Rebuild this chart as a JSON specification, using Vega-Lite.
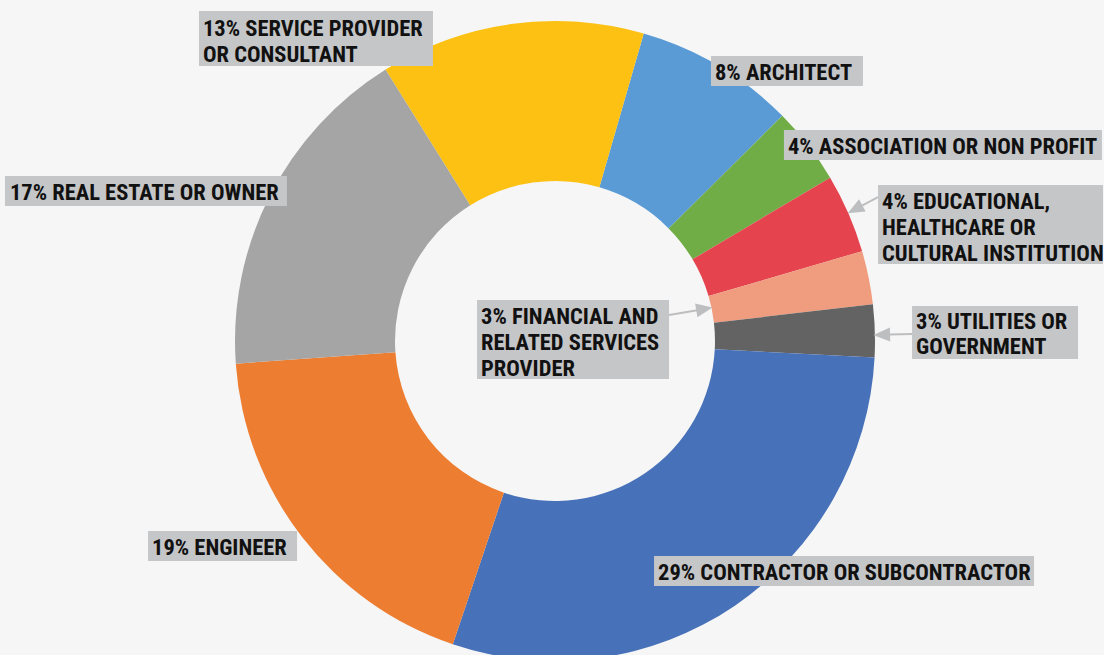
{
  "$schema": "https://vega.github.io/schema/vega-lite/v6.json",
  "width": 1098,
  "height": 628,
  "autosize": {"type": "none"},
  "padding": {"left": 6, "top": 27, "right": 0, "bottom": 0},
  "background": "#F6F6F6",
  "config": {"view": {"stroke": null}, "text": {"font": "Roboto Condensed", "fontSize": 22.5, "fontWeight": "bold", "lineBreak": "\n", "lineHeight": 25.7, "color": "#111111", "align": "left", "baseline": "alphabetic"}},
  "data": {
    "values": [
      {"category": "Architect", "order": 1, "value": 8.1, "label": "8% ARCHITECT"},
      {"category": "Association", "order": 2, "value": 3.9, "label": "4% ASSOCIATION OR NON PROFIT"},
      {"category": "Educational", "order": 3, "value": 4.0, "label": "4% EDUCATIONAL,\nHEALTHCARE OR\nCULTURAL INSTITUTION"},
      {"category": "Financial", "order": 4, "value": 2.7, "label": "3% FINANCIAL AND\nRELATED SERVICES\nPROVIDER"},
      {"category": "Utilities", "order": 5, "value": 2.65, "label": "3% UTILITIES OR\nGOVERNMENT"},
      {"category": "Contractor", "order": 6, "value": 29.35, "label": "29% CONTRACTOR OR SUBCONTRACTOR"},
      {"category": "Engineer", "order": 7, "value": 18.7, "label": "19% ENGINEER"},
      {"category": "Real estate", "order": 8, "value": 17.25, "label": "17% REAL ESTATE OR OWNER"},
      {"category": "Service", "order": 9, "value": 13.35, "label": "13% SERVICE PROVIDER\nOR CONSULTANT"}
    ]
  },
  "transform": [
    {"stack": "value", "groupby": [], "sort": [{"field": "order", "order": "ascending"}], "as": ["v0", "v1"]},
    {"calculate": "0.281 + PI * (datum.v0 + datum.v1) / 100", "as": "ang"},
    {"calculate": "330 * sin(datum.ang)", "as": "ax"},
    {"calculate": "-330 * cos(datum.ang)", "as": "ay"}
  ],
  "resolve": {"scale": {"shape": "independent"}},
  "layer": [
    {
      "mark": {"type": "arc", "innerRadius": 160, "outerRadius": 320},
      "encoding": {
        "theta": {"field": "v0", "type": "quantitative", "scale": {"domain": [0, 100], "range": [0.281, 6.5642]}},
        "theta2": {"field": "v1"},
        "color": {
          "field": "category", "type": "nominal", "legend": null,
          "scale": {
            "domain": ["Architect", "Association", "Educational", "Financial", "Utilities", "Contractor", "Engineer", "Real estate", "Service"],
            "range": ["#5B9BD5", "#70AD47", "#E5444F", "#F09C7E", "#636363", "#4771B8", "#ED7D31", "#A5A5A5", "#FDC113"]
          }
        }
      }
    },
    {
      "transform": [{"filter": {"field": "category", "oneOf": ["Educational", "Financial", "Utilities"]}}],
      "mark": {"type": "point", "filled": true, "size": 4, "opacity": 1, "fill": "#BDBEC0", "stroke": "#BDBEC0", "strokeWidth": 2},
      "encoding": {
        "x": {"field": "ax", "type": "quantitative", "scale": {"domain": [-549, 549], "nice": false, "zero": false}, "axis": null},
        "y": {"field": "ay", "type": "quantitative", "scale": {"domain": [-314, 314], "nice": false, "zero": false, "reverse": true}, "axis": null},
        "shape": {
          "field": "category", "type": "nominal", "legend": null,
          "scale": {
            "domain": ["Educational", "Financial", "Utilities"],
            "range": [
              "M20.4,-12.4L3.85,-3.54M-7.6,2.6L6.45,1.31L1.25,-8.39Z",
              "M-209.4,39.4L-181.2,34.6M-168.4,32.4L-182.1,29.2L-180.3,40Z",
              "M27.2,3.4L4.2,4M-8.8,4.4L4.35,9.5L4.05,-1.5Z"
            ]
          }
        }
      }
    },
    {
      "mark": {"type": "point", "filled": true, "size": 4, "opacity": 1, "color": "#C5C6C8"},
      "encoding": {
        "x": {"field": "ax", "type": "quantitative", "scale": {"domain": [-549, 549], "nice": false, "zero": false}, "axis": null},
        "y": {"field": "ay", "type": "quantitative", "scale": {"domain": [-314, 314], "nice": false, "zero": false, "reverse": true}, "axis": null},
        "shape": {
          "field": "category", "type": "nominal", "legend": null,
          "scale": {
            "domain": ["Architect", "Association", "Educational", "Financial", "Utilities", "Contractor", "Engineer", "Real estate", "Service"],
            "range": [
              "M-12.4,-1.2H139.6V28.8H-12.4Z",
              "M-32.1,-9.1H285.9V20.9H-32.1Z",
              "M20.4,-24.4H245.4V54.6H20.4Z",
              "M-401.4,24.4H-209.4V103.4H-401.4Z",
              "M27.2,-24.6H193.2V28.4H27.2Z",
              "M-86.5,-57.9H293.5V-27.9H-86.5Z",
              "M-145.9,-11.9H3.1V18.1H-145.9Z",
              "M-256,-15.2H26V14.8H-256Z",
              "M-310.5,-3.2H-76.5V51.8H-310.5Z"
            ]
          }
        }
      }
    },
    {
      "transform": [{"filter": "datum.category === 'Architect'"}],
      "mark": {"type": "text", "dx": -8.4, "dy": 22.8},
      "encoding": {
        "x": {"field": "ax", "type": "quantitative", "scale": {"domain": [-549, 549], "nice": false, "zero": false}, "axis": null},
        "y": {"field": "ay", "type": "quantitative", "scale": {"domain": [-314, 314], "nice": false, "zero": false, "reverse": true}, "axis": null},
        "text": {"field": "label"}
      }
    },
    {
      "transform": [{"filter": "datum.category === 'Association'"}],
      "mark": {"type": "text", "dx": -28.1, "dy": 14.9},
      "encoding": {
        "x": {"field": "ax", "type": "quantitative", "scale": {"domain": [-549, 549], "nice": false, "zero": false}, "axis": null},
        "y": {"field": "ay", "type": "quantitative", "scale": {"domain": [-314, 314], "nice": false, "zero": false, "reverse": true}, "axis": null},
        "text": {"field": "label"}
      }
    },
    {
      "transform": [{"filter": "datum.category === 'Educational'"}],
      "mark": {"type": "text", "dx": 24.4, "dy": -0.1},
      "encoding": {
        "x": {"field": "ax", "type": "quantitative", "scale": {"domain": [-549, 549], "nice": false, "zero": false}, "axis": null},
        "y": {"field": "ay", "type": "quantitative", "scale": {"domain": [-314, 314], "nice": false, "zero": false, "reverse": true}, "axis": null},
        "text": {"field": "label"}
      }
    },
    {
      "transform": [{"filter": "datum.category === 'Financial'"}],
      "mark": {"type": "text", "dx": -397.4, "dy": 48.7},
      "encoding": {
        "x": {"field": "ax", "type": "quantitative", "scale": {"domain": [-549, 549], "nice": false, "zero": false}, "axis": null},
        "y": {"field": "ay", "type": "quantitative", "scale": {"domain": [-314, 314], "nice": false, "zero": false, "reverse": true}, "axis": null},
        "text": {"field": "label"}
      }
    },
    {
      "transform": [{"filter": "datum.category === 'Utilities'"}],
      "mark": {"type": "text", "dx": 31.2, "dy": -1.3, "lineHeight": 25},
      "encoding": {
        "x": {"field": "ax", "type": "quantitative", "scale": {"domain": [-549, 549], "nice": false, "zero": false}, "axis": null},
        "y": {"field": "ay", "type": "quantitative", "scale": {"domain": [-314, 314], "nice": false, "zero": false, "reverse": true}, "axis": null},
        "text": {"field": "label"}
      }
    },
    {
      "transform": [{"filter": "datum.category === 'Contractor'"}],
      "mark": {"type": "text", "dx": -82.5, "dy": -33.9},
      "encoding": {
        "x": {"field": "ax", "type": "quantitative", "scale": {"domain": [-549, 549], "nice": false, "zero": false}, "axis": null},
        "y": {"field": "ay", "type": "quantitative", "scale": {"domain": [-314, 314], "nice": false, "zero": false, "reverse": true}, "axis": null},
        "text": {"field": "label"}
      }
    },
    {
      "transform": [{"filter": "datum.category === 'Engineer'"}],
      "mark": {"type": "text", "dx": -141.9, "dy": 12.1},
      "encoding": {
        "x": {"field": "ax", "type": "quantitative", "scale": {"domain": [-549, 549], "nice": false, "zero": false}, "axis": null},
        "y": {"field": "ay", "type": "quantitative", "scale": {"domain": [-314, 314], "nice": false, "zero": false, "reverse": true}, "axis": null},
        "text": {"field": "label"}
      }
    },
    {
      "transform": [{"filter": "datum.category === 'Real estate'"}],
      "mark": {"type": "text", "dx": -251, "dy": 8.8},
      "encoding": {
        "x": {"field": "ax", "type": "quantitative", "scale": {"domain": [-549, 549], "nice": false, "zero": false}, "axis": null},
        "y": {"field": "ay", "type": "quantitative", "scale": {"domain": [-314, 314], "nice": false, "zero": false, "reverse": true}, "axis": null},
        "text": {"field": "label"}
      }
    },
    {
      "transform": [{"filter": "datum.category === 'Service'"}],
      "mark": {"type": "text", "dx": -306.5, "dy": 21.8},
      "encoding": {
        "x": {"field": "ax", "type": "quantitative", "scale": {"domain": [-549, 549], "nice": false, "zero": false}, "axis": null},
        "y": {"field": "ay", "type": "quantitative", "scale": {"domain": [-314, 314], "nice": false, "zero": false, "reverse": true}, "axis": null},
        "text": {"field": "label"}
      }
    }
  ]
}
